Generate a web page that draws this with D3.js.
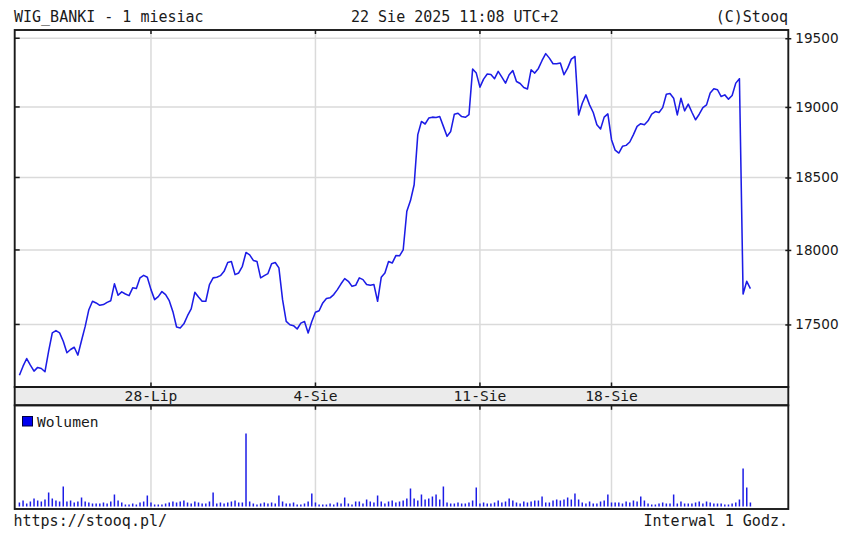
<!DOCTYPE html>
<html><head><meta charset="utf-8">
<script src="https://cdn.jsdelivr.net/npm/d3@7"></script>
<style>body{margin:0;background:#fff}svg{display:block}</style>
</head><body>
<svg id="c" width="851" height="534"></svg>
<script>
const title = "WIG_BANKI - 1 miesiac";
const stamp = "22 Sie 2025 11:08 UTC+2";
const copyright = "(C)Stooq";
const footLeft = "https://stooq.pl/";
const footRight = "Interwal 1 Godz.";
const legendLabel = "Wolumen";

const days = ["22.07","23.07","24.07","25.07","28.07","29.07","30.07","31.07","01.08",
  "04.08","05.08","06.08","07.08","08.08","11.08","12.08","13.08","14.08",
  "18.08","19.08","20.08","21.08","22.08"];
const hours = ["09","10","11","12","13","14","15","16","17"];
const lastDayHours = ["09","10","11"];

const closes = [
  17167,17226,17276,17233,17194,17218,17211,17190,17324,
  17444,17459,17444,17389,17314,17335,17350,17298,17394,
  17487,17598,17654,17643,17627,17632,17647,17658,17771,
  17694,17717,17703,17692,17744,17739,17811,17828,17815,
  17732,17665,17685,17719,17699,17658,17585,17483,17477,
  17504,17558,17603,17714,17683,17654,17654,17766,17811,
  17815,17826,17855,17915,17922,17833,17844,17889,17983,
  17967,17929,17922,17811,17826,17840,17907,17915,17878,
  17665,17520,17498,17492,17470,17509,17520,17444,17520,
  17581,17591,17643,17672,17677,17699,17732,17771,17806,
  17788,17754,17761,17811,17799,17766,17761,17766,17654,
  17815,17844,17922,17911,17962,17960,18000,18265,18339,
  18449,18802,18896,18878,18920,18927,18924,18931,18861,
  18790,18825,18948,18955,18931,18926,18945,19274,19245,
  19143,19201,19238,19235,19204,19257,19216,19172,19233,
  19264,19184,19169,19140,19129,19269,19245,19279,19337,
  19387,19354,19313,19313,19318,19233,19281,19347,19366,
  18943,19027,19087,19015,18960,18873,18842,18927,18950,
  18766,18692,18672,18719,18726,18750,18802,18861,18880,
  18873,18901,18948,18967,18960,18995,19092,19097,19063,
  18943,19063,18972,19020,18962,18908,18948,18995,19015,
  19100,19131,19124,19075,19087,19056,19082,19172,19204,
  17703,17788,17739
];

const volumes = [
  4,6,3,5,8,6,5,7,14,
  8,6,5,20,5,6,4,5,9,
  5,4,3,3,3,4,3,5,12,
  6,4,2,2,3,2,4,5,11,
  4,2,2,2,3,4,5,4,5,
  6,4,3,5,4,3,3,5,14,
  3,4,3,4,5,6,4,4,73,
  5,3,2,3,4,3,4,3,11,
  5,3,3,4,2,2,3,5,13,
  4,2,2,2,3,2,4,3,9,
  3,2,5,5,3,7,5,4,11,
  5,3,5,6,4,5,6,8,18,
  8,6,12,7,8,10,12,7,20,
  4,3,3,4,3,3,4,6,19,
  3,4,3,3,4,6,4,5,8,
  6,4,3,5,4,5,6,6,10,
  4,4,6,7,6,7,9,7,13,
  7,4,3,5,3,3,5,6,12,
  4,4,4,3,5,4,6,5,10,
  6,3,2,2,3,4,3,3,12,
  3,5,3,3,3,4,5,3,5,
  4,3,3,3,2,2,3,4,7,
  38,19,4
];

const priceTicks = [17500, 18000, 18500, 19000, 19500];
const dateTicks = ["28.07 09", "04.08 09", "11.08 09", "18.08 09"];
const dateTickLabels = ["28-Lip", "4-Sie", "11-Sie", "18-Sie"];

// categories (hourly bars)
const categories = [];
days.forEach((d, k) => {
  const hs = k === days.length - 1 ? lastDayHours : hours;
  hs.forEach(h => categories.push(d + " " + h));
});
const data = categories.map((c, i) => ({c, close: closes[i], vol: volumes[i]}));

// layout
const L = 14.7, R = 788.3, T = 30, B = 387, bandB = 405.3, VB = 509;
const MONO = "'DejaVu Sans Mono', monospace";
const ink = "#1a1a1a";
const blue = "#1c1ce6";
const gridC = "#dadada";

const svg = d3.select("#c");

const x = d3.scalePoint().domain(categories).range([19.4, 750.4]);
const y = d3.scaleLog().domain([17091, 19561]).range([B, T]);
const yv = d3.scaleLinear().domain([0, 100]).range([506.5, 406.5]);

// header
svg.append("text").attr("x", 14).attr("y", 21.5).text(title)
  .attr("font-family", MONO).attr("font-size", 15).attr("fill", ink);
svg.append("text").attr("x", 351).attr("y", 21.5).text(stamp)
  .attr("font-family", MONO).attr("font-size", 15).attr("fill", ink);
svg.append("text").attr("x", 788).attr("y", 21.5).attr("text-anchor", "end").text(copyright)
  .attr("font-family", MONO).attr("font-size", 15).attr("fill", ink);

// background gridlines
const gH = svg.append("g");
priceTicks.forEach(p => {
  gH.append("line").attr("x1", L).attr("x2", R).attr("y1", y(p)).attr("y2", y(p))
    .attr("stroke", gridC).attr("stroke-width", 1.5);
});
dateTicks.forEach(d => {
  [[T, B], [bandB, VB]].forEach(([a, b]) => {
    gH.append("line").attr("x1", x(d)).attr("x2", x(d)).attr("y1", a).attr("y2", b)
      .attr("stroke", gridC).attr("stroke-width", 1.5);
  });
});

// date band
svg.append("rect").attr("x", L).attr("y", B).attr("width", R - L).attr("height", bandB - B)
  .attr("fill", "#ebebeb");
dateTicks.forEach((d, k) => {
  svg.append("text").attr("x", x(d)).attr("y", 400.5).attr("text-anchor", "middle")
    .text(dateTickLabels[k]).attr("font-family", MONO).attr("font-size", 14.6).attr("fill", ink);
});

// price line
const line = d3.line().x(d => x(d.c)).y(d => y(d.close));
svg.append("path").datum(data).attr("d", line).attr("fill", "none")
  .attr("stroke", blue).attr("stroke-width", 1.55).attr("stroke-linejoin", "round");

// volume bars
svg.append("g").selectAll("line").data(data).join("line")
  .attr("x1", d => x(d.c)).attr("x2", d => x(d.c))
  .attr("y1", yv(0)).attr("y2", d => yv(d.vol))
  .attr("stroke", blue).attr("stroke-width", 1.5);

// frames
const frame = svg.append("g").attr("fill", "none").attr("stroke", ink).attr("stroke-width", 1.9);
frame.append("rect").attr("x", L).attr("y", T).attr("width", R - L).attr("height", B - T);
frame.append("rect").attr("x", L).attr("y", B).attr("width", R - L).attr("height", bandB - B);
frame.append("rect").attr("x", L).attr("y", bandB).attr("width", R - L).attr("height", VB - bandB);

// ticks
const tk = svg.append("g").attr("stroke", ink).attr("stroke-width", 1.5);
dateTicks.forEach(d => {
  [[T, T + 4], [B - 4.5, B], [bandB, bandB + 4.5]].forEach(([a, b]) => {
    tk.append("line").attr("x1", x(d)).attr("x2", x(d)).attr("y1", a).attr("y2", b);
  });
});
priceTicks.forEach(p => {
  tk.append("line").attr("x1", L).attr("x2", L + 5).attr("y1", y(p)).attr("y2", y(p));
});

// right price axis
const ax = svg.append("g").attr("transform", `translate(${R},0)`)
  .call(d3.axisRight(y).tickValues(priceTicks).tickFormat(d3.format("d"))
    .tickSizeInner(3).tickSizeOuter(0).tickPadding(4));
ax.select(".domain").remove();
ax.selectAll(".tick line").attr("stroke", ink).attr("stroke-width", 1.5).attr("x1", -3);
ax.selectAll(".tick text").attr("font-family", "'DejaVu Sans', sans-serif")
  .attr("font-size", 13.6).attr("fill", ink);

// legend
svg.append("rect").attr("x", 22.5).attr("y", 416.5).attr("width", 10).attr("height", 9.5)
  .attr("fill", "#0000f0").attr("stroke", "#000040").attr("stroke-width", 1);
svg.append("text").attr("x", 37).attr("y", 426.5).text(legendLabel)
  .attr("font-family", MONO).attr("font-size", 14.6).attr("fill", ink);

// footer
svg.append("text").attr("x", 13.5).attr("y", 525.5).text(footLeft)
  .attr("font-family", MONO).attr("font-size", 15).attr("fill", ink);
svg.append("text").attr("x", 788).attr("y", 525.5).attr("text-anchor", "end").text(footRight)
  .attr("font-family", MONO).attr("font-size", 15).attr("fill", ink);
</script>
</body></html>
